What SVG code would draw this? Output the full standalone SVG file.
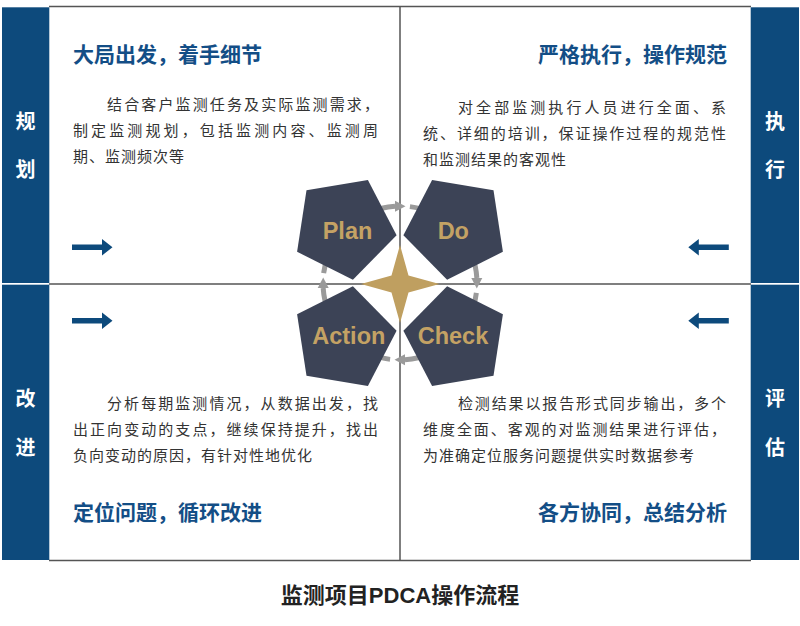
<svg xmlns="http://www.w3.org/2000/svg" xmlns:xlink="http://www.w3.org/1999/xlink" width="800" height="626" viewBox="0 0 800 626">
<defs>
<style>
.bar{fill:#0d4a7c}
.bartxt{font-family:"Noto Sans CJK SC",sans-serif;font-size:20px;font-weight:bold;fill:#ffffff;text-anchor:middle}
.frame{stroke:#555;stroke-width:1.5;fill:none}
.ttl{font-family:"Noto Sans CJK SC",sans-serif;font-size:21px;font-weight:bold;fill:#134e86}
.body{font-family:"Noto Sans CJK SC",sans-serif;font-size:15px;fill:#333;letter-spacing:1px}
.just{letter-spacing:0}
.pent{fill:#3c4356}
.ptxt{font-family:"Liberation Sans",Arial,sans-serif;font-size:23.5px;font-weight:bold;fill:#c4a264;text-anchor:middle}
.ring{stroke:#9a9a9a;stroke-width:5;fill:none}
.head{fill:#9a9a9a}
.barrow{fill:#0d4a7c}
.cap{font-family:"Liberation Sans","Noto Sans CJK SC",sans-serif;font-size:22px;font-weight:bold;fill:#222;text-anchor:middle}
</style>
<path id="arrR" d="M0,-2.8 H30 V-8.3 L40.5,0 L30,8.3 V2.8 H0 Z"/>
<path id="arrL" d="M0,0 L10.5,-8.3 V-2.8 H40.5 V2.8 H10.5 V8.3 Z"/>
</defs>
<rect width="800" height="626" fill="#fff"/>

<!-- frame -->
<g id="frame">
<line class="frame" x1="49" y1="6.5" x2="751" y2="6.5"/>
<line class="frame" x1="49" y1="560.5" x2="751" y2="560.5"/>
<line class="frame" x1="400" y1="6" x2="400" y2="561"/>
<line class="frame" x1="49" y1="284" x2="751" y2="284"/>
</g>

<!-- side bars -->
<g id="bar-plan"><rect class="bar" x="2" y="7.3" width="47.3" height="275.7"/><text class="bartxt" x="25.5" y="129">规</text><text class="bartxt" x="25.5" y="177">划</text></g>
<g id="bar-do"><rect class="bar" x="750.7" y="7.3" width="48.3" height="275.7"/><text class="bartxt" x="775" y="129">执</text><text class="bartxt" x="775" y="177">行</text></g>
<g id="bar-act"><rect class="bar" x="2" y="284.7" width="47.3" height="275.3"/><text class="bartxt" x="25.5" y="406">改</text><text class="bartxt" x="25.5" y="455">进</text></g>
<g id="bar-chk"><rect class="bar" x="750.7" y="284.7" width="48.3" height="275.3"/><text class="bartxt" x="775" y="406">评</text><text class="bartxt" x="775" y="455">估</text></g>

<!-- quadrant texts -->
<g id="q-plan">
<text class="ttl" x="73" y="62">大局出发，着手细节</text>
<text class="body just" x="107" y="110" textLength="272" lengthAdjust="spacing">结合客户监测任务及实际监测需求，</text>
<text class="body just" x="73" y="136" textLength="305" lengthAdjust="spacing">制定监测规划，包括监测内容、监测周</text>
<text class="body" x="73" y="162">期、监测频次等</text>
<use href="#arrR" x="72" y="247.3" class="barrow"/>
</g>
<g id="q-do">
<text class="ttl" x="727" y="62" text-anchor="end">严格执行，操作规范</text>
<text class="body just" x="458" y="113" textLength="268" lengthAdjust="spacing">对全部监测执行人员进行全面、系</text>
<text class="body just" x="423" y="139" textLength="303" lengthAdjust="spacing">统、详细的培训，保证操作过程的规范性</text>
<text class="body" x="423" y="165">和监测结果的客观性</text>
<use href="#arrL" x="688.3" y="247.3" class="barrow"/>
</g>
<g id="q-act">
<use href="#arrR" x="72" y="320.7" class="barrow"/>
<text class="body just" x="107" y="409" textLength="271" lengthAdjust="spacing">分析每期监测情况，从数据出发，找</text>
<text class="body just" x="73" y="435" textLength="305" lengthAdjust="spacing">出正向变动的支点，继续保持提升，找出</text>
<text class="body" x="73" y="461">负向变动的原因，有针对性地优化</text>
<text class="ttl" x="73" y="520">定位问题，循环改进</text>
</g>
<g id="q-chk">
<use href="#arrL" x="688.3" y="320.7" class="barrow"/>
<text class="body just" x="458" y="409" textLength="268" lengthAdjust="spacing">检测结果以报告形式同步输出，多个</text>
<text class="body just" x="423" y="435" textLength="303" lengthAdjust="spacing">维度全面、客观的对监测结果进行评估，</text>
<text class="body" x="423" y="461">为准确定位服务问题提供实时数据参考</text>
<text class="ttl" x="727" y="520" text-anchor="end">各方协同，总结分析</text>
</g>

<!-- cycle connectors -->
<g id="connectors">
<path class="ring" d="M323.64,273.08 A77,77 0 0 1 395.03,206.16"/>
<path class="ring" d="M409.92,206.64 A77,77 0 0 1 476.84,278.03"/>
<path class="ring" d="M476.36,292.92 A77,77 0 0 1 404.97,359.84"/>
<path class="ring" d="M390.08,359.36 A77,77 0 0 1 323.16,287.97"/>
<polygon class="head" points="395,200.7 395,211.7 405.5,206.2"/>
<polygon class="head" points="471.3,278 482.3,278 476.8,288.5"/>
<polygon class="head" points="405,365.3 405,354.3 394.5,359.8"/>
<polygon class="head" points="328.7,288 317.7,288 323.2,277.5"/>
</g>

<!-- PDCA nodes -->
<g id="plan"><polygon class="pent" points="396.6,235.3 352.9,279.7 297.1,251.8 306.5,190.2 367.9,180"/><text class="ptxt" x="347.5" y="239">Plan</text></g>
<g id="do"><polygon class="pent" points="403.4,235.3 447.1,279.7 502.9,251.8 493.5,190.2 432.1,180"/><text class="ptxt" x="453.3" y="239">Do</text></g>
<g id="action"><polygon class="pent" points="396.6,330.7 352.9,286.3 297.1,314.2 306.5,375.8 367.9,386"/><text class="ptxt" x="348.8" y="344.3">Action</text></g>
<g id="check"><polygon class="pent" points="403.4,330.7 447.1,286.3 502.9,314.2 493.5,375.8 432.1,386"/><text class="ptxt" x="453" y="344.3">Check</text></g>

<g id="star"><polygon fill="#bf9f60" points="400,245 408.5,275.5 439.5,284 408.5,292.5 400,323 391.5,292.5 361,284 391.5,275.5"/></g>

<g id="caption"><text class="cap" x="400" y="603">监测项目PDCA操作流程</text></g>
</svg>
